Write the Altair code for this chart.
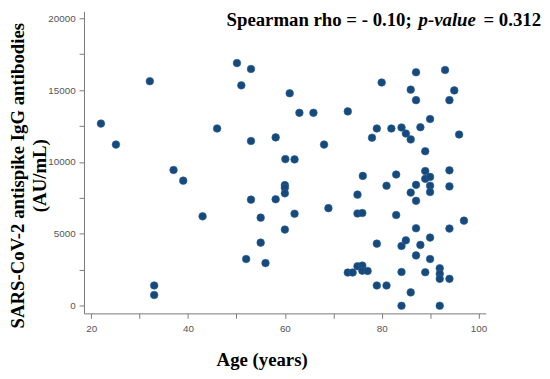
import altair as alt
import pandas as pd

ages = [22.0, 25.1, 32.1, 37.0, 39.0, 46.0, 50.1, 51.0, 53.0, 53.0,
        58.1, 60.1, 62.0, 61.0, 63.0, 65.9, 73.0, 68.1, 80.0, 87.1,
        93.1, 86.0, 95.0, 87.1, 94.0, 90.0, 79.0, 82.0, 84.1, 88.0,
        85.0, 86.0, 78.0, 96.0, 89.0, 76.1, 83.0, 89.0, 94.0, 43.0,
        33.0, 33.0, 60.0, 60.0, 60.0, 53.0, 58.1, 55.0, 62.0, 60.0,
        55.0, 52.0, 56.0, 69.0, 89.0, 90.0, 81.0, 87.1, 90.0, 90.0,
        94.0, 86.0, 75.0, 87.1, 75.0, 76.0, 83.0, 97.0, 87.1, 94.0,
        90.0, 85.0, 79.0, 84.1, 88.0, 87.1, 90.0, 73.0, 74.0, 75.0,
        76.0, 76.0, 77.1, 84.1, 89.0, 92.0, 92.0, 92.0, 94.0, 79.0,
        81.0, 86.0, 84.1, 92.0]

antibodies = [12670, 11210, 15620, 9445, 8700, 12330, 16880, 15330, 16470, 11460,
              11710, 10200, 10180, 14780, 13420, 13420, 13520, 11210, 15530, 16240,
              16400, 15030, 14980, 14300, 14300, 12990, 12330, 12330, 12400, 12420,
              11980, 11570, 11690, 11910, 10750, 9030, 9130, 9370, 9420, 6220,
              1410, 750, 8390, 8210, 7820, 7380, 7410, 6130, 6400, 5300,
              4390, 3250, 2970, 6790, 8830, 8960, 8350, 8410, 8350, 7910,
              8300, 7870, 7730, 7300, 6420, 6450, 6310, 5920, 5390, 5370,
              4740, 4550, 4320, 4160, 4230, 3500, 3250, 2310, 2310, 2750,
              2790, 2440, 2420, 2350, 2330, 2610, 2220, 1870, 1870, 1410,
              1410, 930, 0, 0]

x_ticks = [20, 30, 40, 50, 60, 70, 80, 90, 100]
y_ticks = [0, 2500, 5000, 7500, 10000, 12500, 15000, 17500, 20000]

y_title = ["SARS-CoV-2 antispike IgG antibodies", "(AU/mL)"]
x_title = "Age (years)"
stat_parts = ["Spearman rho = - 0.10;", "p-value", "= 0.312"]

df = pd.DataFrame({"age": ages, "igg": antibodies})

serif = "Liberation Serif"
sans = "Liberation Sans"

points = alt.Chart(df).mark_circle(
    size=60, color="#174a7c", opacity=1, stroke="#2a5f92", strokeWidth=0.6
).encode(
    x=alt.X("age:Q",
            scale=alt.Scale(domain=[18.5, 101.5], nice=False, zero=False),
            axis=alt.Axis(values=x_ticks,
                          labelExpr="datum.value % 20 == 0 ? datum.label : ''",
                          grid=False, domainColor="#7a7a7a", tickColor="#7a7a7a",
                          tickSize=5, labelPadding=5, labelFont=sans, labelFontSize=10,
                          labelColor="#555555", title=x_title, titleFont=serif,
                          titleFontSize=19, titleFontWeight="bold", titleColor="#000000",
                          titleX=180, titleY=53, titleAlign="center",
                          titleBaseline="alphabetic")),
    y=alt.Y("igg:Q",
            scale=alt.Scale(domain=[-530, 20480], nice=False, zero=False),
            axis=alt.Axis(values=y_ticks,
                          labelExpr="datum.value % 5000 == 0 ? datum.label : ''",
                          format="d",
                          grid=False, domainColor="#7a7a7a", tickColor="#7a7a7a",
                          tickSize=5, labelPadding=4, labelFont=sans, labelFontSize=10,
                          labelColor="#555555", title=y_title, titleFont=serif,
                          titleFontSize=19, titleFontWeight="bold", titleColor="#000000",
                          titleAngle=270, titleX=-76, titleY=166, titleAlign="center",
                          titleBaseline="top", titleLineHeight=22)),
)

def stat_text(txt, xpos, italic=False):
    return alt.Chart(pd.DataFrame({"t": [txt]})).mark_text(
        font=serif, fontSize=19, fontWeight="bold",
        fontStyle="italic" if italic else "normal",
        align="right", baseline="alphabetic", color="#000000"
    ).encode(text="t:N", x=alt.value(xpos), y=alt.value(15))

chart = alt.layer(
    points,
    stat_text(stat_parts[0], 332),
    stat_text(stat_parts[1], 397, italic=True),
    stat_text(stat_parts[2], 463),
).properties(
    width=407, height=306,
    padding={"left": 77, "top": 1, "right": 57, "bottom": 56},
    autosize=alt.AutoSizeParams(type="none"),
    background="white",
).configure_view(stroke=None)

chart.save("out.html", embed_options={"renderer": "svg", "actions": False})
